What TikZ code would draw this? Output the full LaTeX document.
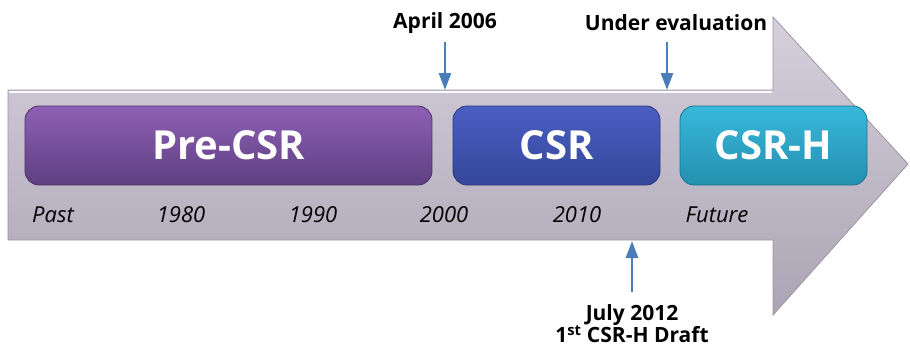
\documentclass[tikz,border=0pt]{standalone}
\usepackage{fontspec}
\setmainfont{Open Sans}
\usetikzlibrary{arrows.meta}
\definecolor{arrowtop}{HTML}{D6D0DD}
\definecolor{arrowbot}{HTML}{ABA4B4}
\definecolor{arrowedge}{HTML}{9A96A0}
\definecolor{pinkTop}{HTML}{8E60B6}
\definecolor{pinkBot}{HTML}{5E3F80}
\definecolor{blueTop}{HTML}{4B5EC2}
\definecolor{blueBot}{HTML}{34479A}
\definecolor{tealTop}{HTML}{38B8DA}
\definecolor{tealBot}{HTML}{2490B0}
\definecolor{pointer}{HTML}{4A7EBB}
\begin{document}
\begin{tikzpicture}[x=1pt,y=-1pt,
  phase/.style={rounded corners=14pt, minimum height=79pt, text=white,
    font=\fontsize{40}{48}\selectfont\bfseries, draw=#1Bot!80!black, line width=0.8pt,
    top color=#1Top, bottom color=#1Bot},
  yearlbl/.style={font=\fontsize{22}{26}\selectfont\itshape, text=black},
  marklbl/.style={font=\fontsize{21}{25}\selectfont\bfseries, text=black, align=center},
  pointerarrow/.style={draw=pointer, line width=2.6pt, -{Triangle[width=12pt,length=17pt]}}
]
\useasboundingbox (0,0) rectangle (910,349);
% big arrow
\path[draw=arrowedge, line width=0.8pt, top color=arrowtop, bottom color=arrowbot]
  (8,90) -- (773,90) -- (773,17) -- (908,164) -- (773,315) -- (773,240) -- (8,240) -- cycle;
\draw[white!85!arrowtop, line width=1.2pt] (9,92) -- (772,92);
% phases
\node[phase=pink, minimum width=407pt] (pre) at (228.5,145.5) {Pre-CSR};
\node[phase=blue, minimum width=207pt] (csr) at (556.5,145.5) {CSR};
\node[phase=teal, minimum width=187pt] (csrh) at (773.5,145.5) {CSR-H};
% years
\node[yearlbl] (past) at (53,215) {Past};
\node[yearlbl] (y1980) at (181,215) {1980};
\node[yearlbl] (y1990) at (313,215) {1990};
\node[yearlbl] (y2000) at (444,215) {2000};
\node[yearlbl] (y2010) at (577,215) {2010};
\node[yearlbl] (future) at (717,215) {Future};
% markers
\node[marklbl] (april) at (445,23) {April 2006};
\node[marklbl] (under) at (676,23) {Under evaluation};
\node[marklbl, inner sep=1pt] (july) at (632,324) {July 2012\\[-3pt]1\textsuperscript{st} CSR-H Draft};
\coordinate (aprilEnd) at (445,90);
\coordinate (underEnd) at (667,90);
\coordinate (julyEnd) at (632,241);
\coordinate (aprilStart) at (445,42);
\coordinate (underStart) at (667,42);
\coordinate (julyStart) at (632,292);
\draw[pointerarrow] (aprilStart) -- (aprilEnd);
\draw[pointerarrow] (underStart) -- (underEnd);
\draw[pointerarrow] (julyStart) -- (julyEnd);
\end{tikzpicture}
\end{document}
